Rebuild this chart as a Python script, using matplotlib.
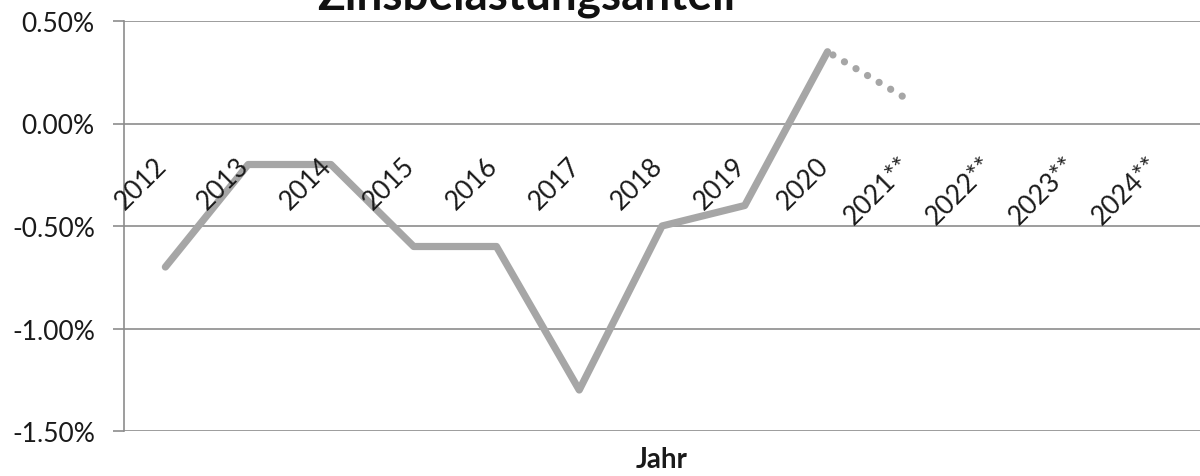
"""
Zinsbelastungsanteil chart
"""
# %%
import numpy as np
import matplotlib
matplotlib.use("Agg")
import matplotlib.pyplot as plt
from matplotlib.ticker import FuncFormatter

# %%
# data (percent)
YEARS = ["2012", "2013", "2014", "2015", "2016", "2017", "2018", "2019", "2020",
         "2021**", "2022**", "2023**", "2024**"]
ACTUAL = [-0.70, -0.20, -0.20, -0.60, -0.60, -1.30, -0.50, -0.40, 0.35]
FORECAST_YEARS = ["2020", "2021**"]
FORECAST = [0.35, 0.11]
Y_TICKS = [0.5, 0.0, -0.5, -1.0, -1.5]

LINE_COLOR = "#a6a6a6"
GRID_COLOR = "#8c8c8c"
FONT = "Lato"

# %%
fig = plt.figure(figsize=(12, 4.77), dpi=100)
ax = fig.add_axes([124/1200, 1 - 432/477, 1 - 124/1200, (432 - 22)/477])

x_all = np.arange(len(YEARS))
x_act = np.arange(len(ACTUAL))
x_fc = [YEARS.index(y) for y in FORECAST_YEARS]

ax.plot(x_act, ACTUAL, color=LINE_COLOR, lw=5.2, solid_capstyle="round",
        solid_joinstyle="round", zorder=3)
ax.plot(x_fc, FORECAST, color=LINE_COLOR, lw=5.2, dash_capstyle="round",
        linestyle=(1.0, (0.01, 1.85)), zorder=3)

ax.set_xlim(-0.5, len(YEARS) - 0.5)
ax.set_ylim(-1.5, 0.5)
ax.set_yticks(Y_TICKS)
ax.yaxis.set_major_formatter(FuncFormatter(lambda v, p: f"{v:.2f}%"))
ax.grid(axis="y", color=GRID_COLOR, lw=1.2)
ax.set_axisbelow(True)
ax.set_xticks([])

for s in ["top", "right", "bottom"]:
    ax.spines[s].set_visible(False)
ax.spines["left"].set_color(GRID_COLOR)
ax.spines["left"].set_linewidth(1.2)
ax.tick_params(axis="y", length=8, width=1.2, color=GRID_COLOR, pad=13,
               labelsize=19, labelcolor="#1a1a1a")
for lbl in ax.get_yticklabels():
    lbl.set_fontfamily(FONT)

# rotated category labels below the zero line
for i, yr in enumerate(YEARS):
    ax.text(i + 0.07, -0.14, yr, rotation=45, ha="right", va="top",
            fontsize=19, family=FONT, color="#1a1a1a")

ax.text(0.5, -0.068, "Jahr", transform=ax.transAxes, ha="center", va="center",
        fontsize=20, fontweight="bold", family=FONT, color="#1a1a1a")

fig.text(526/1200, 1 - 10/477, "Zinsbelastungsanteil", ha="center",
         va="baseline", fontsize=33, fontweight="bold", family=FONT,
         color="#111111")

fig.savefig("out.png", dpi=100)
